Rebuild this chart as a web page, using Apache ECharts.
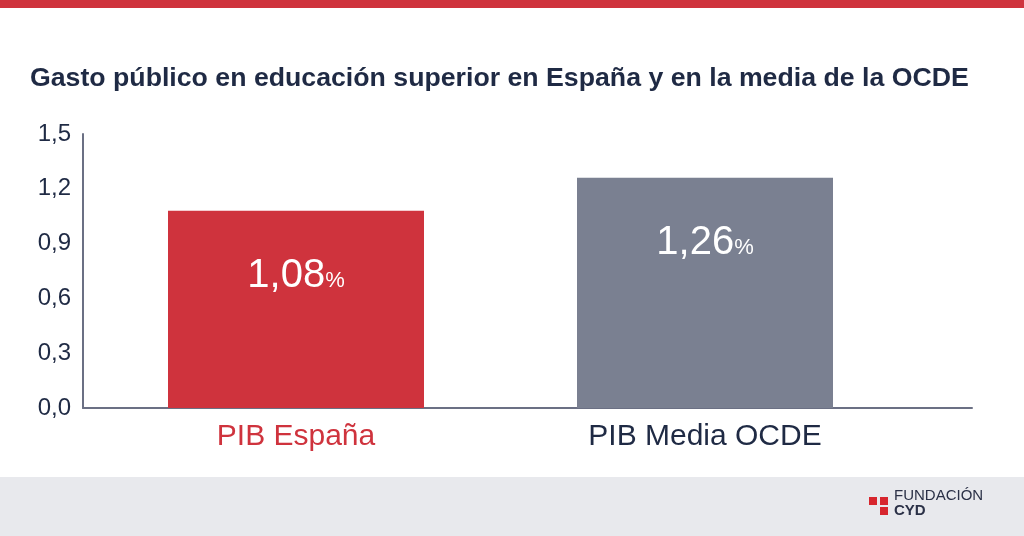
<!DOCTYPE html>
<html>
<head>
<meta charset="utf-8">
<script src="https://cdn.jsdelivr.net/npm/echarts@6/dist/echarts.min.js"></script>
<style>
  html, body { margin: 0; padding: 0; background: #fff; }
  #chart { width: 1024px; height: 536px; }
</style>
</head>
<body>
<div id="chart"></div>
<script>
// data
var categories = ['PIB España', 'PIB Media OCDE'];
var values = [1.08, 1.26];
var barColors = ['#cf333d', '#7a8091'];
var labelColors = ['#cf333d', '#1f2a44'];

var navy = '#1f2a44';
var font = "'Liberation Sans', Arial, sans-serif";

var myChart = echarts.init(document.getElementById('chart'));

function comma(v, d) {
    return v.toFixed(d).replace('.', ',');
}

var option = {
    backgroundColor: '#ffffff',
    animation: false,
    textStyle: {fontFamily: font},
    title: {
        text: 'Gasto público en educación superior en España y en la media de la OCDE',
        left: 30,
        top: 65,
        padding: 0,
        textStyle: {
            color: navy,
            fontSize: 26.7,
            fontWeight: 'bold',
            fontFamily: font
        }
    },
    grid: [
        // bars
        {left: 91.5, width: 818, top: 134, height: 274},
        // visible axes
        {left: 83, width: 889, top: 134, height: 274}
    ],
    xAxis: [
        {
            type: 'category',
            gridIndex: 0,
            data: categories,
            axisLine: {show: false},
            axisTick: {show: false},
            axisLabel: {
                margin: 14,
                fontSize: 30,
                fontFamily: font,
                color: function (value, idx) {
                    return labelColors[idx];
                }
            }
        },
        {
            type: 'value',
            gridIndex: 1,
            min: 0,
            max: 1,
            axisLine: {show: true, onZero: false, lineStyle: {color: '#6b7084', width: 2}},
            axisTick: {show: false},
            axisLabel: {show: false},
            splitLine: {show: false}
        }
    ],
    yAxis: [
        {
            type: 'value',
            gridIndex: 0,
            min: 0,
            max: 1.5,
            interval: 0.3,
            show: false
        },
        {
            type: 'value',
            gridIndex: 1,
            min: 0,
            max: 1.5,
            interval: 0.3,
            axisLine: {show: true, lineStyle: {color: '#6b7084', width: 2}},
            axisTick: {show: false},
            splitLine: {show: false},
            axisLabel: {
                margin: 12,
                fontSize: 24,
                color: navy,
                fontFamily: font,
                padding: [5, 0, 0, 0],
                formatter: function (v) {
                    return comma(v, 1);
                }
            }
        }
    ],
    series: [{
        type: 'bar',
        xAxisIndex: 0,
        yAxisIndex: 0,
        barWidth: 256,
        data: values.map(function (v, i) {
            return {value: v, itemStyle: {color: barColors[i]}};
        }),
        label: {
            show: true,
            position: 'insideTop',
            distance: 45,
            formatter: function (p) {
                return '{n|' + comma(p.value, 2) + '}{p|%}';
            },
            rich: {
                n: {fontSize: 40, color: '#ffffff', fontFamily: font},
                p: {fontSize: 22, color: '#ffffff', fontFamily: font, padding: [10, 0, 0, 0]}
            }
        }
    }],
    graphic: [
        {type: 'rect', shape: {x: 0, y: 0, width: 1024, height: 8}, style: {fill: '#cf333d'}},
        {type: 'rect', shape: {x: 0, y: 477, width: 1024, height: 59}, style: {fill: '#e8e9ed'}},
        // logo
        {type: 'rect', shape: {x: 869, y: 497, width: 8, height: 8}, style: {fill: '#d7262e'}},
        {type: 'rect', shape: {x: 880, y: 497, width: 8, height: 8}, style: {fill: '#d7262e'}},
        {type: 'rect', shape: {x: 880, y: 507, width: 8, height: 8}, style: {fill: '#d7262e'}},
        {type: 'text', left: 894, top: 488, style: {text: 'FUNDACIÓN', fontSize: 15, fill: '#2b3147', fontFamily: font}},
        {type: 'text', left: 894, top: 503, style: {text: 'CYD', fontSize: 15, fontWeight: 'bold', fill: '#2b3147', fontFamily: font}}
    ]
};

myChart.setOption(option);
</script>
</body>
</html>
